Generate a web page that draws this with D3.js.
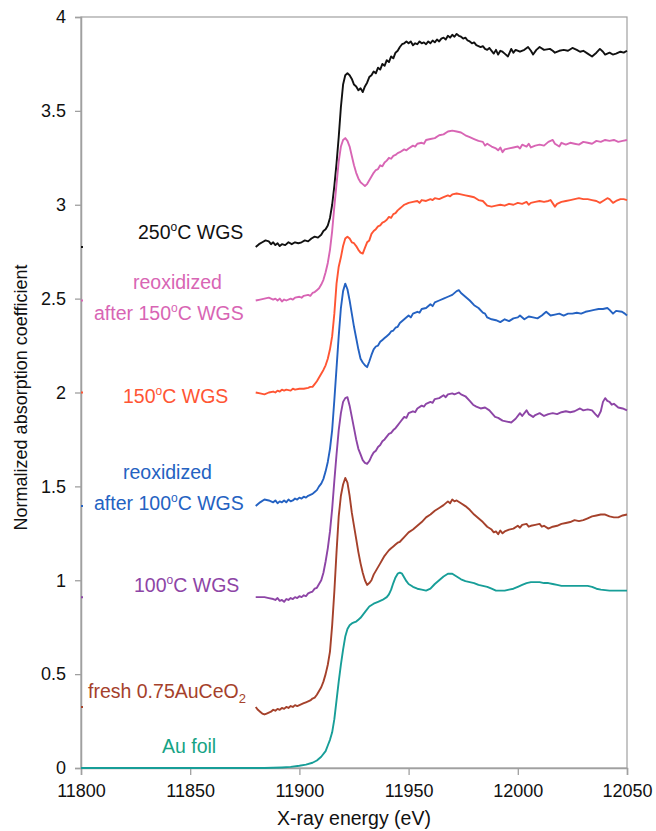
<!DOCTYPE html>
<html><head><meta charset="utf-8">
<script src="https://cdn.jsdelivr.net/npm/d3@7"></script>
<style>body{margin:0;background:#fff}svg{display:block}text{font-family:"Liberation Sans",Arial,sans-serif}</style>
</head><body><svg id="c" width="656" height="831"></svg>
<script>
const xTicks = [11800, 11850, 11900, 11950, 12000, 12050];
const yTicks = [0, 0.5, 1, 1.5, 2, 2.5, 3, 3.5, 4];
const yTickLabels = ["0", "0.5", "1", "1.5", "2", "2.5", "3", "3.5", "4"];

const s250 = [[11880,2.775],[11881.5,2.79],[11883,2.80],[11884.5,2.81],[11886,2.805],[11887,2.79],[11888,2.80],[11889,2.785],[11890,2.795],[11891,2.78],[11892,2.79],[11893.5,2.785],[11895,2.80],[11896.5,2.79],[11898,2.80],[11899.5,2.795],[11901,2.80],[11902.5,2.81],[11904,2.805],[11905.5,2.82],[11907,2.83],[11908.5,2.825],[11910,2.84],[11911,2.86],[11912,2.87],[11913,2.89],[11914,2.93],[11915,3.00],[11916,3.10],[11917,3.22],[11918,3.36],[11919,3.52],[11920,3.64],[11921,3.69],[11922,3.70],[11923,3.69],[11924,3.67],[11925,3.64],[11926,3.63],[11927,3.61],[11928,3.62],[11929,3.60],[11930,3.63],[11931,3.65],[11932,3.68],[11933,3.69],[11934,3.71],[11935,3.70],[11936,3.73],[11937,3.72],[11938,3.75],[11939,3.74],[11940,3.77],[11941,3.76],[11942,3.79],[11943,3.78],[11944,3.81],[11945,3.82],[11946,3.84],[11947,3.855],[11948,3.86],[11949,3.87],[11950,3.86],[11951,3.87],[11952,3.85],[11953,3.86],[11954,3.855],[11955,3.87],[11956,3.86],[11957,3.865],[11958,3.855],[11959,3.87],[11960,3.86],[11961,3.875],[11962,3.865],[11963,3.88],[11964,3.87],[11965,3.885],[11966,3.89],[11967,3.88],[11968,3.90],[11969,3.89],[11970,3.905],[11971,3.895],[11972,3.91],[11973,3.90],[11974,3.895],[11975,3.885],[11976,3.89],[11977,3.875],[11978,3.87],[11979,3.86],[11980,3.865],[11981,3.85],[11982,3.845],[11983,3.84],[11984,3.845],[11985,3.83],[11986,3.825],[11987,3.835],[11988,3.82],[11989,3.805],[11990,3.825],[11991,3.80],[11992,3.82],[11993,3.815],[11994,3.805],[11995.5,3.79],[11997,3.83],[11998,3.81],[11999,3.825],[12001,3.815],[12003,3.825],[12004.7,3.84],[12006,3.82],[12007,3.80],[12008.5,3.825],[12010,3.84],[12012,3.825],[12014.7,3.83],[12016,3.82],[12017,3.81],[12019,3.82],[12021,3.825],[12023,3.82],[12025,3.835],[12027,3.825],[12028.5,3.815],[12030,3.82],[12032,3.805],[12034,3.79],[12036,3.81],[12037.6,3.83],[12039,3.815],[12040,3.80],[12042,3.81],[12043.5,3.80],[12045,3.805],[12047,3.815],[12048.5,3.81],[12050,3.82]];

const sReox150 = [[11880,2.49],[11882,2.495],[11884,2.50],[11886,2.505],[11888,2.495],[11889,2.50],[11890,2.49],[11891,2.50],[11892,2.485],[11893,2.495],[11894,2.49],[11896,2.50],[11897,2.495],[11898,2.505],[11900,2.51],[11901,2.505],[11902,2.515],[11904,2.52],[11905,2.515],[11906,2.53],[11907,2.535],[11908,2.545],[11909,2.555],[11910,2.575],[11911,2.60],[11912,2.64],[11913,2.69],[11914,2.76],[11915,2.86],[11916,2.99],[11917,3.11],[11918,3.23],[11919,3.31],[11920,3.345],[11921,3.355],[11922,3.34],[11923,3.31],[11924,3.26],[11925,3.21],[11926,3.17],[11927,3.14],[11928,3.12],[11929,3.11],[11930,3.10],[11931,3.11],[11932,3.13],[11933,3.15],[11934,3.17],[11935,3.185],[11936,3.19],[11937,3.21],[11938,3.205],[11939,3.225],[11940,3.235],[11941,3.25],[11942,3.245],[11943,3.26],[11944,3.265],[11945,3.275],[11946,3.28],[11948,3.295],[11949,3.29],[11950,3.30],[11952,3.315],[11953,3.31],[11954,3.325],[11956,3.33],[11957,3.325],[11958,3.345],[11960,3.35],[11962,3.355],[11964,3.37],[11966,3.375],[11968,3.39],[11970,3.395],[11972,3.39],[11974,3.385],[11976,3.37],[11978,3.36],[11980,3.35],[11982,3.34],[11984,3.335],[11985,3.315],[11986,3.325],[11988,3.31],[11990,3.30],[11991,3.29],[11992,3.305],[11993,3.28],[11994,3.295],[11996,3.30],[11998,3.305],[12000,3.31],[12001,3.30],[12002,3.32],[12004,3.31],[12005,3.325],[12006,3.305],[12008,3.315],[12010,3.32],[12012,3.315],[12014,3.335],[12016,3.345],[12017,3.325],[12019,3.31],[12020,3.33],[12022,3.32],[12024,3.33],[12026,3.325],[12028,3.32],[12030,3.335],[12032,3.33],[12034,3.325],[12036,3.34],[12038,3.335],[12040,3.345],[12042,3.34],[12044,3.345],[12046,3.335],[12048,3.34],[12050,3.345]];

const s150 = [[11880,2.00],[11882,1.995],[11884,1.99],[11886,2.00],[11888,2.005],[11889,2.00],[11890,2.01],[11891,2.005],[11892,2.015],[11893,2.01],[11894,2.015],[11896,2.01],[11897,2.02],[11898,2.015],[11900,2.02],[11902,2.02],[11904,2.025],[11905,2.03],[11906,2.03],[11907,2.045],[11908,2.06],[11909,2.08],[11910,2.10],[11911,2.12],[11912,2.145],[11913,2.18],[11914,2.23],[11915,2.30],[11916,2.42],[11917,2.58],[11918,2.67],[11919,2.72],[11920,2.78],[11921,2.82],[11922,2.83],[11923,2.82],[11924,2.80],[11925,2.795],[11926,2.78],[11927,2.76],[11928,2.745],[11929,2.74],[11930,2.77],[11931,2.80],[11932,2.81],[11933,2.845],[11934,2.86],[11935,2.87],[11936,2.885],[11937,2.89],[11938,2.905],[11939,2.91],[11940,2.92],[11941,2.935],[11942,2.93],[11943,2.95],[11944,2.955],[11945,2.97],[11946,2.98],[11947,2.99],[11948,3.00],[11949,3.005],[11950,3.01],[11952,3.015],[11954,3.02],[11955,3.01],[11956,3.025],[11958,3.02],[11960,3.03],[11961,3.025],[11962,3.035],[11964,3.03],[11966,3.04],[11968,3.05],[11969,3.045],[11970,3.055],[11972,3.06],[11974,3.055],[11976,3.05],[11978,3.045],[11980,3.04],[11982,3.025],[11984,3.02],[11986,2.995],[11988,2.99],[11990,2.995],[11992,3.00],[11994,2.995],[11996,3.005],[11998,3.00],[12000,3.01],[12002,3.005],[12004,3.015],[12005,3.00],[12006,3.01],[12008,3.015],[12010,3.02],[12012,3.015],[12014,3.02],[12015,3.025],[12017,2.99],[12018,3.005],[12020,3.015],[12022,3.02],[12024,3.025],[12026,3.03],[12028,3.035],[12030,3.03],[12032,3.03],[12034,3.025],[12036,3.02],[12037.6,3.01],[12039,3.02],[12041,3.035],[12042,3.03],[12043.6,3.01],[12045,3.02],[12047,3.03],[12048.5,3.03],[12050,3.025]];

const sReox100 = [[11880,1.395],[11882,1.415],[11884,1.43],[11886,1.425],[11888,1.415],[11889,1.425],[11890,1.41],[11891,1.42],[11892,1.415],[11893,1.425],[11894,1.415],[11895,1.43],[11896,1.42],[11897,1.425],[11898,1.435],[11899,1.43],[11900,1.44],[11901,1.435],[11902,1.445],[11903,1.44],[11904,1.45],[11905,1.455],[11906,1.46],[11907,1.47],[11908,1.48],[11909,1.50],[11910,1.515],[11911,1.54],[11912,1.58],[11913,1.63],[11914,1.70],[11915,1.80],[11916,1.96],[11917,2.13],[11918,2.30],[11919,2.45],[11920,2.54],[11921,2.58],[11922,2.55],[11923,2.49],[11924,2.42],[11925,2.35],[11926,2.29],[11927,2.23],[11928,2.18],[11929,2.16],[11930,2.145],[11931,2.135],[11932,2.165],[11933,2.20],[11934,2.23],[11935,2.245],[11936,2.25],[11937,2.27],[11938,2.28],[11939,2.29],[11940,2.30],[11941,2.31],[11942,2.325],[11943,2.33],[11944,2.345],[11945,2.35],[11946,2.37],[11948,2.39],[11950,2.41],[11951,2.40],[11952,2.42],[11954,2.43],[11955,2.425],[11956,2.445],[11958,2.45],[11960,2.47],[11961,2.46],[11962,2.48],[11964,2.49],[11966,2.50],[11968,2.51],[11970,2.52],[11972,2.54],[11973,2.545],[11974,2.53],[11976,2.51],[11978,2.49],[11980,2.465],[11982,2.45],[11984,2.425],[11985,2.42],[11986,2.40],[11988,2.39],[11990,2.385],[11992,2.375],[11994,2.39],[11996,2.38],[11998,2.395],[12000,2.40],[12001,2.41],[12003,2.39],[12005,2.405],[12007,2.40],[12009,2.395],[12011,2.41],[12013,2.43],[12015,2.41],[12017,2.415],[12019,2.42],[12021,2.41],[12023,2.42],[12025,2.42],[12027,2.425],[12029,2.42],[12031,2.43],[12033,2.435],[12035,2.44],[12037,2.445],[12039,2.445],[12041,2.45],[12042,2.44],[12043.6,2.42],[12045,2.435],[12047.7,2.43],[12049,2.42],[12050,2.41]];

const s100 = [[11880,0.91],[11882,0.91],[11884,0.91],[11886,0.905],[11888,0.90],[11889,0.895],[11890,0.905],[11891,0.89],[11892,0.895],[11893,0.885],[11894,0.90],[11895,0.895],[11896,0.905],[11897,0.90],[11898,0.91],[11899,0.905],[11900,0.915],[11901,0.91],[11902,0.92],[11903,0.915],[11904,0.93],[11905,0.935],[11906,0.94],[11907,0.955],[11908,0.96],[11909,0.98],[11910,1.00],[11911,1.04],[11912,1.10],[11913,1.17],[11914,1.26],[11915,1.38],[11916,1.53],[11917,1.67],[11918,1.80],[11919,1.89],[11920,1.95],[11921,1.97],[11922,1.975],[11923,1.93],[11924,1.87],[11925,1.81],[11926,1.75],[11927,1.70],[11928,1.67],[11929,1.64],[11930,1.625],[11931,1.62],[11932,1.635],[11933,1.66],[11934,1.68],[11935,1.69],[11936,1.71],[11937,1.72],[11938,1.74],[11939,1.75],[11940,1.765],[11941,1.78],[11942,1.785],[11943,1.80],[11944,1.81],[11945,1.825],[11946,1.84],[11948,1.87],[11949,1.865],[11950,1.89],[11952,1.90],[11953,1.895],[11954,1.915],[11956,1.93],[11957,1.925],[11958,1.94],[11960,1.95],[11961,1.945],[11962,1.965],[11964,1.97],[11966,1.985],[11967,1.975],[11968,1.99],[11970,1.995],[11971,1.99],[11973,2.00],[11974,1.99],[11976,1.98],[11978,1.955],[11979.5,1.935],[11981,1.925],[11983,1.915],[11985,1.92],[11987,1.905],[11989.6,1.87],[11991,1.865],[11993,1.85],[11995,1.845],[11997,1.84],[11999,1.86],[12001,1.89],[12002,1.875],[12004,1.905],[12005,1.885],[12007,1.87],[12008,1.88],[12010,1.89],[12012,1.875],[12014,1.885],[12016,1.89],[12018,1.885],[12020,1.895],[12022,1.90],[12024,1.895],[12026,1.90],[12028.5,1.915],[12030,1.905],[12032,1.91],[12034,1.905],[12035.5,1.885],[12036.7,1.87],[12038,1.90],[12039,1.95],[12040,1.97],[12041,1.955],[12042,1.95],[12043,1.935],[12044,1.94],[12046,1.92],[12048,1.915],[12050,1.905]];

const sFresh = [[11880,0.325],[11881,0.31],[11882,0.30],[11883,0.29],[11884,0.285],[11885,0.29],[11886,0.295],[11887,0.30],[11888,0.31],[11889,0.305],[11890,0.315],[11891,0.31],[11892,0.32],[11893,0.315],[11894,0.325],[11895,0.32],[11896,0.33],[11897,0.325],[11898,0.335],[11899,0.33],[11900,0.335],[11901,0.34],[11902,0.345],[11903,0.35],[11904,0.355],[11905,0.36],[11906,0.37],[11907,0.375],[11908,0.39],[11909,0.41],[11910,0.43],[11911,0.46],[11912,0.50],[11913,0.55],[11914,0.62],[11915,0.76],[11916,0.94],[11917,1.15],[11918,1.34],[11919,1.45],[11920,1.51],[11921,1.545],[11922,1.52],[11923,1.45],[11924,1.36],[11925,1.29],[11926,1.22],[11927,1.15],[11928,1.09],[11929,1.04],[11930,1.00],[11931,0.975],[11932,0.985],[11933,1.00],[11934,1.03],[11935,1.05],[11936,1.07],[11937,1.09],[11938,1.11],[11939,1.13],[11940,1.145],[11941,1.16],[11942,1.17],[11943,1.18],[11944,1.19],[11945,1.20],[11946,1.205],[11948,1.23],[11950,1.255],[11952,1.27],[11954,1.29],[11956,1.31],[11958,1.335],[11960,1.35],[11962,1.37],[11964,1.385],[11966,1.40],[11968,1.42],[11969,1.41],[11970,1.43],[11971,1.42],[11972,1.425],[11974,1.41],[11976,1.395],[11978,1.375],[11980,1.35],[11982,1.33],[11984,1.31],[11986,1.285],[11988,1.27],[11989,1.255],[11990,1.26],[11991,1.245],[11992,1.265],[11993,1.25],[11994,1.26],[11996,1.27],[11998,1.275],[12000,1.29],[12001,1.28],[12002,1.295],[12004,1.30],[12005,1.285],[12006,1.29],[12008,1.295],[12010,1.30],[12011,1.285],[12012,1.29],[12014,1.275],[12016,1.285],[12018,1.29],[12020,1.30],[12022,1.305],[12024,1.31],[12026,1.32],[12028,1.315],[12030,1.32],[12032,1.33],[12034,1.34],[12036,1.345],[12038,1.35],[12040,1.35],[12042,1.34],[12044,1.335],[12046,1.335],[12048,1.345],[12050,1.35]];

const sAuFoil = [[11800,0],[11884,0],[11888,0.001],[11892,0.003],[11896,0.006],[11900,0.012],[11903,0.018],[11906,0.028],[11908,0.04],[11910,0.06],[11912,0.09],[11913,0.12],[11914,0.15],[11915,0.19],[11916,0.26],[11917,0.36],[11918,0.46],[11919,0.55],[11920,0.63],[11921,0.70],[11922,0.74],[11923,0.76],[11924,0.77],[11925,0.775],[11926,0.78],[11927,0.79],[11928,0.80],[11930,0.83],[11932,0.86],[11934,0.875],[11936,0.885],[11938,0.895],[11940,0.91],[11941,0.925],[11942,0.95],[11943,0.985],[11944,1.015],[11945,1.035],[11946,1.04],[11947,1.035],[11948,1.015],[11949,0.995],[11950,0.98],[11952,0.965],[11954,0.955],[11956,0.95],[11958,0.945],[11960,0.955],[11962,0.98],[11964,1.00],[11966,1.02],[11968,1.035],[11970,1.035],[11972,1.02],[11974,1.005],[11976,0.995],[11978,0.99],[11980,0.985],[11982,0.975],[11984,0.97],[11986,0.965],[11988,0.955],[11990,0.945],[11992,0.945],[11994,0.945],[11996,0.95],[11998,0.955],[12000,0.965],[12002,0.975],[12004,0.985],[12006,0.99],[12008,0.99],[12010,0.99],[12012,0.985],[12014,0.985],[12016,0.98],[12018,0.975],[12020,0.97],[12024,0.97],[12028,0.97],[12032,0.97],[12034,0.965],[12036,0.955],[12038,0.95],[12042,0.945],[12050,0.945]];

const seriesNames = ["250°C WGS", "reoxidized after 150°C WGS", "150°C WGS", "reoxidized after 100°C WGS", "100°C WGS", "fresh 0.75AuCeO2", "Au foil"];
const seriesData = [s250, sReox150, s150, sReox100, s100, sFresh, sAuFoil];
const seriesColors = ["#111111", "#d865b4", "#ff5533", "#2462c2", "#8d45a6", "#a5412b", "#179e98"];
const labelColors = ["#111111", "#d865b4", "#ff5533", "#2462c2", "#8d45a6", "#a5412b", "#16a384"];

// label layout: lines of [text parts], start x, baseline y
const labelLayout = [
  {lines: [[["250"],["o","sup"],["C WGS"]]], x: [138], y: [239]},
  {lines: [[["reoxidized"]], [["after 150"],["o","sup"],["C WGS"]]], x: [133, 94], y: [289, 320]},
  {lines: [[["150"],["o","sup"],["C WGS"]]], x: [123], y: [403]},
  {lines: [[["reoxidized"]], [["after 100"],["o","sup"],["C WGS"]]], x: [123, 94], y: [479, 510]},
  {lines: [[["100"],["o","sup"],["C WGS"]]], x: [134], y: [592]},
  {lines: [[["fresh 0.75AuCeO"],["2","sub"]]], x: [88], y: [698]},
  {lines: [[["Au foil"]]], x: [162], y: [753]}
];

const svg = d3.select("#c");
const x = d3.scaleLinear().domain([11800, 12050]).range([81, 627]);
const y = d3.scaleLinear().domain([0, 4]).range([768, 17]);
const axisColor = "#a0a0a0";

// frame
svg.append("rect").attr("x", x(11800)).attr("y", y(4)).attr("width", x(12050) - x(11800)).attr("height", y(0) - y(4))
  .attr("fill", "none").attr("stroke", axisColor).attr("stroke-width", 1.2);

const xAxis = svg.append("g").attr("transform", `translate(0,${y(0)})`)
  .call(d3.axisBottom(x).tickValues(xTicks).tickSize(7).tickPadding(9).tickFormat(d3.format("d")));
const yAxis = svg.append("g").attr("transform", `translate(${x(11800)},0)`)
  .call(d3.axisLeft(y).tickValues(yTicks).tickSize(6).tickPadding(9).tickFormat((d, i) => yTickLabels[i]));
[xAxis, yAxis].forEach(g => {
  g.select(".domain").attr("stroke", axisColor).attr("stroke-width", 1.5);
  g.selectAll(".tick line").attr("stroke", axisColor).attr("stroke-width", 1.3);
  g.selectAll(".tick text").attr("fill", "#111").attr("font-size", 18).attr("font-family", '"Liberation Sans",Arial,sans-serif');
});

const line = d3.line().x(d => x(d[0])).y(d => y(d[1]));
seriesData.forEach((s, i) => {
  svg.append("path").datum(s).attr("d", line).attr("fill", "none")
    .attr("stroke", seriesColors[i]).attr("stroke-width", 1.9).attr("stroke-linejoin", "round");
  if (i < 6) {
    svg.append("line").attr("x1", x(11800)).attr("x2", x(11800) + 2)
      .attr("y1", y(s[0][1])).attr("y2", y(s[0][1]))
      .attr("stroke", seriesColors[i]).attr("stroke-width", 2);
  }
});

labelLayout.forEach((lab, i) => {
  lab.lines.forEach((parts, j) => {
    const t = svg.append("text").attr("x", lab.x[j]).attr("y", lab.y[j])
      .attr("fill", labelColors[i]).attr("font-size", 19.5);
    parts.forEach(p => {
      const ts = t.append("tspan").text(p[0]);
      if (p[1] === "sup") ts.attr("font-size", 12).attr("dy", -8);
      else if (p[1] === "sub") ts.attr("font-size", 13).attr("dy", 5);
      else if (t.selectAll("tspan").size() > 1) ts.attr("dy", 8);
    });
  });
});

svg.append("text").attr("x", (x(11800) + x(12050)) / 2).attr("y", 825).attr("text-anchor", "middle")
  .attr("font-size", 19.5).attr("fill", "#111").text("X-ray energy (eV)");
svg.append("text").attr("transform", `translate(27,${(y(0) + y(4)) / 2 + 5}) rotate(-90)`).attr("text-anchor", "middle")
  .attr("font-size", 18).attr("fill", "#111").text("Normalized absorption coefficient");
</script></body></html>
